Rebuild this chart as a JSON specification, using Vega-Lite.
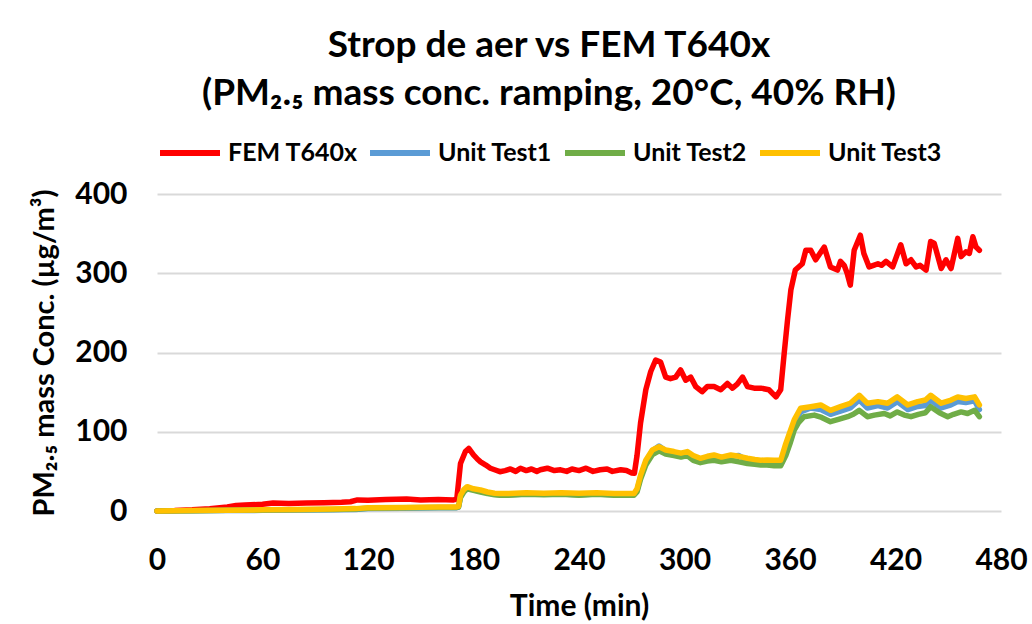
{
  "$schema": "https://vega.github.io/schema/vega-lite/v6.json",
  "width": 844,
  "height": 317,
  "autosize": {"type": "none"},
  "padding": {"left": 157, "top": 194, "right": 31, "bottom": 113},
  "background": "white",
  "title": {
    "text": ["Strop de aer vs FEM T640x", "(PM₂.₅ mass conc. ramping, 20°C, 40% RH)"],
    "font": "Lato",
    "fontSize": 37,
    "fontWeight": "bold",
    "color": "#000000",
    "lineHeight": 48,
    "anchor": "middle",
    "frame": "group",
    "dx": -30,
    "offset": 7
  },
  "config": {
    "view": {"stroke": null},
    "font": "Lato",
    "axis": {"labelFont": "Lato", "titleFont": "Lato", "labelColor": "#000000", "titleColor": "#000000"}
  },
  "datasets": {
    "series": [
      {"s": "FEM T640x", "t": 0, "v": 0}, {"s": "FEM T640x", "t": 10, "v": 0.5}, {"s": "FEM T640x", "t": 20, "v": 1.5}, {"s": "FEM T640x", "t": 30, "v": 3}, {"s": "FEM T640x", "t": 40, "v": 5}, {"s": "FEM T640x", "t": 45, "v": 7}, {"s": "FEM T640x", "t": 50, "v": 7.5}, {"s": "FEM T640x", "t": 60, "v": 8.5}, {"s": "FEM T640x", "t": 66, "v": 10}, {"s": "FEM T640x", "t": 75, "v": 9.5}, {"s": "FEM T640x", "t": 85, "v": 10}, {"s": "FEM T640x", "t": 95, "v": 10.5}, {"s": "FEM T640x", "t": 105, "v": 11}, {"s": "FEM T640x", "t": 110, "v": 11.7}, {"s": "FEM T640x", "t": 114, "v": 14}, {"s": "FEM T640x", "t": 120, "v": 13.5}, {"s": "FEM T640x", "t": 130, "v": 14.5}, {"s": "FEM T640x", "t": 142, "v": 15}, {"s": "FEM T640x", "t": 150, "v": 14}, {"s": "FEM T640x", "t": 160, "v": 14.5}, {"s": "FEM T640x", "t": 168.7, "v": 14}, {"s": "FEM T640x", "t": 170.5, "v": 15}, {"s": "FEM T640x", "t": 172.6, "v": 60}, {"s": "FEM T640x", "t": 175.4, "v": 75}, {"s": "FEM T640x", "t": 177.3, "v": 79}, {"s": "FEM T640x", "t": 180, "v": 70.7}, {"s": "FEM T640x", "t": 182, "v": 66}, {"s": "FEM T640x", "t": 184, "v": 62}, {"s": "FEM T640x", "t": 187, "v": 58}, {"s": "FEM T640x", "t": 189.6, "v": 54}, {"s": "FEM T640x", "t": 192, "v": 52}, {"s": "FEM T640x", "t": 195, "v": 49.6}, {"s": "FEM T640x", "t": 198, "v": 51}, {"s": "FEM T640x", "t": 201, "v": 53}, {"s": "FEM T640x", "t": 204, "v": 50}, {"s": "FEM T640x", "t": 206.7, "v": 54}, {"s": "FEM T640x", "t": 210, "v": 51}, {"s": "FEM T640x", "t": 213, "v": 53}, {"s": "FEM T640x", "t": 216, "v": 50}, {"s": "FEM T640x", "t": 218, "v": 52}, {"s": "FEM T640x", "t": 222, "v": 54}, {"s": "FEM T640x", "t": 226, "v": 51}, {"s": "FEM T640x", "t": 229.5, "v": 52}, {"s": "FEM T640x", "t": 233, "v": 50}, {"s": "FEM T640x", "t": 236, "v": 53}, {"s": "FEM T640x", "t": 240, "v": 51}, {"s": "FEM T640x", "t": 244, "v": 54}, {"s": "FEM T640x", "t": 248, "v": 50}, {"s": "FEM T640x", "t": 252, "v": 52}, {"s": "FEM T640x", "t": 256, "v": 53}, {"s": "FEM T640x", "t": 259, "v": 50}, {"s": "FEM T640x", "t": 263.7, "v": 52}, {"s": "FEM T640x", "t": 267, "v": 51}, {"s": "FEM T640x", "t": 270, "v": 48}, {"s": "FEM T640x", "t": 271.5, "v": 47.6}, {"s": "FEM T640x", "t": 273, "v": 70}, {"s": "FEM T640x", "t": 275, "v": 111}, {"s": "FEM T640x", "t": 278, "v": 153}, {"s": "FEM T640x", "t": 280.8, "v": 176}, {"s": "FEM T640x", "t": 283.6, "v": 190.5}, {"s": "FEM T640x", "t": 286.4, "v": 188}, {"s": "FEM T640x", "t": 289.3, "v": 169}, {"s": "FEM T640x", "t": 292, "v": 167}, {"s": "FEM T640x", "t": 295, "v": 169}, {"s": "FEM T640x", "t": 297.8, "v": 178}, {"s": "FEM T640x", "t": 300.7, "v": 165}, {"s": "FEM T640x", "t": 303.5, "v": 169}, {"s": "FEM T640x", "t": 306.4, "v": 157}, {"s": "FEM T640x", "t": 310, "v": 150.5}, {"s": "FEM T640x", "t": 313, "v": 157}, {"s": "FEM T640x", "t": 316.8, "v": 157}, {"s": "FEM T640x", "t": 320.6, "v": 153}, {"s": "FEM T640x", "t": 324.4, "v": 161}, {"s": "FEM T640x", "t": 327.3, "v": 155}, {"s": "FEM T640x", "t": 330, "v": 160}, {"s": "FEM T640x", "t": 333, "v": 169}, {"s": "FEM T640x", "t": 335.8, "v": 157}, {"s": "FEM T640x", "t": 339.6, "v": 155}, {"s": "FEM T640x", "t": 343.4, "v": 155}, {"s": "FEM T640x", "t": 348, "v": 153}, {"s": "FEM T640x", "t": 352, "v": 144}, {"s": "FEM T640x", "t": 354.7, "v": 153}, {"s": "FEM T640x", "t": 356.7, "v": 199}, {"s": "FEM T640x", "t": 358.6, "v": 241}, {"s": "FEM T640x", "t": 360.5, "v": 279}, {"s": "FEM T640x", "t": 363, "v": 304}, {"s": "FEM T640x", "t": 367, "v": 312}, {"s": "FEM T640x", "t": 369, "v": 329}, {"s": "FEM T640x", "t": 371.8, "v": 329}, {"s": "FEM T640x", "t": 374.6, "v": 317}, {"s": "FEM T640x", "t": 377, "v": 325}, {"s": "FEM T640x", "t": 379.5, "v": 333}, {"s": "FEM T640x", "t": 383, "v": 308}, {"s": "FEM T640x", "t": 387, "v": 304}, {"s": "FEM T640x", "t": 388.7, "v": 315}, {"s": "FEM T640x", "t": 390.8, "v": 310}, {"s": "FEM T640x", "t": 392.5, "v": 300}, {"s": "FEM T640x", "t": 394.3, "v": 285}, {"s": "FEM T640x", "t": 396.5, "v": 329}, {"s": "FEM T640x", "t": 400, "v": 348}, {"s": "FEM T640x", "t": 402, "v": 325}, {"s": "FEM T640x", "t": 405, "v": 308}, {"s": "FEM T640x", "t": 407.5, "v": 310}, {"s": "FEM T640x", "t": 410, "v": 312}, {"s": "FEM T640x", "t": 412, "v": 310}, {"s": "FEM T640x", "t": 414.6, "v": 315}, {"s": "FEM T640x", "t": 418.4, "v": 308}, {"s": "FEM T640x", "t": 423, "v": 336}, {"s": "FEM T640x", "t": 426, "v": 312}, {"s": "FEM T640x", "t": 428.8, "v": 317}, {"s": "FEM T640x", "t": 431.7, "v": 308}, {"s": "FEM T640x", "t": 434, "v": 310}, {"s": "FEM T640x", "t": 437.4, "v": 304}, {"s": "FEM T640x", "t": 440, "v": 340}, {"s": "FEM T640x", "t": 442, "v": 338}, {"s": "FEM T640x", "t": 446, "v": 306}, {"s": "FEM T640x", "t": 448.7, "v": 317}, {"s": "FEM T640x", "t": 451.6, "v": 306}, {"s": "FEM T640x", "t": 455.4, "v": 344}, {"s": "FEM T640x", "t": 457.3, "v": 321}, {"s": "FEM T640x", "t": 460, "v": 327}, {"s": "FEM T640x", "t": 462, "v": 325}, {"s": "FEM T640x", "t": 464, "v": 346}, {"s": "FEM T640x", "t": 465.8, "v": 333}, {"s": "FEM T640x", "t": 467.7, "v": 329},

      {"s": "Unit Test1", "t": 0, "v": 0}, {"s": "Unit Test1", "t": 20, "v": 0.2}, {"s": "Unit Test1", "t": 40, "v": 0.5}, {"s": "Unit Test1", "t": 60, "v": 0.8}, {"s": "Unit Test1", "t": 80, "v": 1.2}, {"s": "Unit Test1", "t": 100, "v": 1.5}, {"s": "Unit Test1", "t": 113, "v": 2}, {"s": "Unit Test1", "t": 120, "v": 3}, {"s": "Unit Test1", "t": 140, "v": 3.5}, {"s": "Unit Test1", "t": 160, "v": 4}, {"s": "Unit Test1", "t": 170, "v": 4}, {"s": "Unit Test1", "t": 171.5, "v": 5}, {"s": "Unit Test1", "t": 172.6, "v": 18}, {"s": "Unit Test1", "t": 174.5, "v": 26}, {"s": "Unit Test1", "t": 176.4, "v": 29.5}, {"s": "Unit Test1", "t": 180, "v": 27}, {"s": "Unit Test1", "t": 184, "v": 25}, {"s": "Unit Test1", "t": 188, "v": 23}, {"s": "Unit Test1", "t": 192, "v": 21}, {"s": "Unit Test1", "t": 195, "v": 20.5}, {"s": "Unit Test1", "t": 200, "v": 20.5}, {"s": "Unit Test1", "t": 210, "v": 21.5}, {"s": "Unit Test1", "t": 220, "v": 21}, {"s": "Unit Test1", "t": 230, "v": 21.5}, {"s": "Unit Test1", "t": 240, "v": 20.5}, {"s": "Unit Test1", "t": 250, "v": 21.5}, {"s": "Unit Test1", "t": 260, "v": 20.5}, {"s": "Unit Test1", "t": 270, "v": 20.5}, {"s": "Unit Test1", "t": 271.3, "v": 21}, {"s": "Unit Test1", "t": 273, "v": 26}, {"s": "Unit Test1", "t": 275, "v": 43}, {"s": "Unit Test1", "t": 278, "v": 62}, {"s": "Unit Test1", "t": 281.7, "v": 76}, {"s": "Unit Test1", "t": 285.5, "v": 82}, {"s": "Unit Test1", "t": 289.3, "v": 76}, {"s": "Unit Test1", "t": 294, "v": 74}, {"s": "Unit Test1", "t": 298, "v": 72}, {"s": "Unit Test1", "t": 301.6, "v": 73}, {"s": "Unit Test1", "t": 305, "v": 68}, {"s": "Unit Test1", "t": 309, "v": 64}, {"s": "Unit Test1", "t": 313, "v": 67}, {"s": "Unit Test1", "t": 316.8, "v": 68}, {"s": "Unit Test1", "t": 321, "v": 66}, {"s": "Unit Test1", "t": 326.3, "v": 69}, {"s": "Unit Test1", "t": 331, "v": 70}, {"s": "Unit Test1", "t": 335.8, "v": 64}, {"s": "Unit Test1", "t": 340, "v": 62}, {"s": "Unit Test1", "t": 343.4, "v": 61}, {"s": "Unit Test1", "t": 347, "v": 62}, {"s": "Unit Test1", "t": 351, "v": 61}, {"s": "Unit Test1", "t": 354.7, "v": 61}, {"s": "Unit Test1", "t": 357.6, "v": 80}, {"s": "Unit Test1", "t": 360, "v": 95}, {"s": "Unit Test1", "t": 362.4, "v": 110}, {"s": "Unit Test1", "t": 366, "v": 125}, {"s": "Unit Test1", "t": 371.8, "v": 130}, {"s": "Unit Test1", "t": 377.5, "v": 128}, {"s": "Unit Test1", "t": 383, "v": 122}, {"s": "Unit Test1", "t": 388.7, "v": 126}, {"s": "Unit Test1", "t": 394.3, "v": 130}, {"s": "Unit Test1", "t": 399.4, "v": 140}, {"s": "Unit Test1", "t": 404, "v": 130}, {"s": "Unit Test1", "t": 410, "v": 133}, {"s": "Unit Test1", "t": 415.5, "v": 130}, {"s": "Unit Test1", "t": 421, "v": 138}, {"s": "Unit Test1", "t": 427, "v": 128}, {"s": "Unit Test1", "t": 432.6, "v": 132}, {"s": "Unit Test1", "t": 437, "v": 133}, {"s": "Unit Test1", "t": 440, "v": 140}, {"s": "Unit Test1", "t": 446, "v": 130}, {"s": "Unit Test1", "t": 451.6, "v": 134}, {"s": "Unit Test1", "t": 455.4, "v": 138}, {"s": "Unit Test1", "t": 460, "v": 137}, {"s": "Unit Test1", "t": 465, "v": 139}, {"s": "Unit Test1", "t": 467.7, "v": 128},

      {"s": "Unit Test2", "t": 0, "v": 0}, {"s": "Unit Test2", "t": 20, "v": 0.3}, {"s": "Unit Test2", "t": 40, "v": 0.8}, {"s": "Unit Test2", "t": 60, "v": 1.2}, {"s": "Unit Test2", "t": 80, "v": 1.6}, {"s": "Unit Test2", "t": 100, "v": 2}, {"s": "Unit Test2", "t": 113, "v": 2.5}, {"s": "Unit Test2", "t": 120, "v": 3.5}, {"s": "Unit Test2", "t": 140, "v": 4}, {"s": "Unit Test2", "t": 160, "v": 4.5}, {"s": "Unit Test2", "t": 170, "v": 4.5}, {"s": "Unit Test2", "t": 171.5, "v": 5}, {"s": "Unit Test2", "t": 172.6, "v": 17}, {"s": "Unit Test2", "t": 174.5, "v": 24}, {"s": "Unit Test2", "t": 176.4, "v": 28}, {"s": "Unit Test2", "t": 180, "v": 26}, {"s": "Unit Test2", "t": 184, "v": 24}, {"s": "Unit Test2", "t": 188, "v": 22}, {"s": "Unit Test2", "t": 192, "v": 20.5}, {"s": "Unit Test2", "t": 195, "v": 20}, {"s": "Unit Test2", "t": 200, "v": 20}, {"s": "Unit Test2", "t": 210, "v": 21}, {"s": "Unit Test2", "t": 220, "v": 20.5}, {"s": "Unit Test2", "t": 230, "v": 21}, {"s": "Unit Test2", "t": 240, "v": 20}, {"s": "Unit Test2", "t": 250, "v": 21}, {"s": "Unit Test2", "t": 260, "v": 20}, {"s": "Unit Test2", "t": 270, "v": 20}, {"s": "Unit Test2", "t": 271.3, "v": 20}, {"s": "Unit Test2", "t": 273, "v": 24}, {"s": "Unit Test2", "t": 275, "v": 40}, {"s": "Unit Test2", "t": 278, "v": 58}, {"s": "Unit Test2", "t": 281.7, "v": 71}, {"s": "Unit Test2", "t": 285.5, "v": 76}, {"s": "Unit Test2", "t": 289.3, "v": 72}, {"s": "Unit Test2", "t": 294, "v": 70}, {"s": "Unit Test2", "t": 298, "v": 68}, {"s": "Unit Test2", "t": 301.6, "v": 70}, {"s": "Unit Test2", "t": 305, "v": 64}, {"s": "Unit Test2", "t": 309, "v": 61}, {"s": "Unit Test2", "t": 313, "v": 63}, {"s": "Unit Test2", "t": 316.8, "v": 64}, {"s": "Unit Test2", "t": 321, "v": 62}, {"s": "Unit Test2", "t": 326.3, "v": 64}, {"s": "Unit Test2", "t": 331, "v": 62}, {"s": "Unit Test2", "t": 335.8, "v": 60}, {"s": "Unit Test2", "t": 340, "v": 59}, {"s": "Unit Test2", "t": 343.4, "v": 58}, {"s": "Unit Test2", "t": 347, "v": 58}, {"s": "Unit Test2", "t": 351, "v": 57}, {"s": "Unit Test2", "t": 354.7, "v": 57}, {"s": "Unit Test2", "t": 357.6, "v": 70}, {"s": "Unit Test2", "t": 360, "v": 85}, {"s": "Unit Test2", "t": 362.4, "v": 102}, {"s": "Unit Test2", "t": 365, "v": 112}, {"s": "Unit Test2", "t": 368, "v": 119}, {"s": "Unit Test2", "t": 373.8, "v": 121}, {"s": "Unit Test2", "t": 378, "v": 118}, {"s": "Unit Test2", "t": 383, "v": 112.7}, {"s": "Unit Test2", "t": 388, "v": 116}, {"s": "Unit Test2", "t": 392.8, "v": 119}, {"s": "Unit Test2", "t": 396, "v": 122}, {"s": "Unit Test2", "t": 399.4, "v": 127}, {"s": "Unit Test2", "t": 404, "v": 119}, {"s": "Unit Test2", "t": 408, "v": 121}, {"s": "Unit Test2", "t": 413.6, "v": 123}, {"s": "Unit Test2", "t": 417, "v": 120}, {"s": "Unit Test2", "t": 421, "v": 125}, {"s": "Unit Test2", "t": 425, "v": 121}, {"s": "Unit Test2", "t": 428.8, "v": 119}, {"s": "Unit Test2", "t": 433, "v": 122}, {"s": "Unit Test2", "t": 437, "v": 124}, {"s": "Unit Test2", "t": 440, "v": 131.6}, {"s": "Unit Test2", "t": 445, "v": 124}, {"s": "Unit Test2", "t": 449.7, "v": 119}, {"s": "Unit Test2", "t": 453, "v": 122}, {"s": "Unit Test2", "t": 457.3, "v": 125}, {"s": "Unit Test2", "t": 461, "v": 123}, {"s": "Unit Test2", "t": 465, "v": 127}, {"s": "Unit Test2", "t": 467.7, "v": 119},

      {"s": "Unit Test3", "t": 0, "v": 0}, {"s": "Unit Test3", "t": 20, "v": 0.5}, {"s": "Unit Test3", "t": 40, "v": 1}, {"s": "Unit Test3", "t": 60, "v": 1.5}, {"s": "Unit Test3", "t": 80, "v": 2}, {"s": "Unit Test3", "t": 100, "v": 2.5}, {"s": "Unit Test3", "t": 113, "v": 3}, {"s": "Unit Test3", "t": 120, "v": 4}, {"s": "Unit Test3", "t": 140, "v": 4.5}, {"s": "Unit Test3", "t": 160, "v": 5}, {"s": "Unit Test3", "t": 170, "v": 5}, {"s": "Unit Test3", "t": 171.5, "v": 6}, {"s": "Unit Test3", "t": 172.6, "v": 20}, {"s": "Unit Test3", "t": 174.5, "v": 27}, {"s": "Unit Test3", "t": 176.4, "v": 30.7}, {"s": "Unit Test3", "t": 180, "v": 28}, {"s": "Unit Test3", "t": 184, "v": 26.5}, {"s": "Unit Test3", "t": 188, "v": 24}, {"s": "Unit Test3", "t": 192, "v": 22.5}, {"s": "Unit Test3", "t": 195, "v": 22}, {"s": "Unit Test3", "t": 200, "v": 22}, {"s": "Unit Test3", "t": 210, "v": 23}, {"s": "Unit Test3", "t": 220, "v": 22.5}, {"s": "Unit Test3", "t": 230, "v": 23}, {"s": "Unit Test3", "t": 240, "v": 22.5}, {"s": "Unit Test3", "t": 250, "v": 23}, {"s": "Unit Test3", "t": 260, "v": 22}, {"s": "Unit Test3", "t": 270, "v": 22}, {"s": "Unit Test3", "t": 271.3, "v": 22}, {"s": "Unit Test3", "t": 273, "v": 28}, {"s": "Unit Test3", "t": 275, "v": 45}, {"s": "Unit Test3", "t": 278, "v": 64}, {"s": "Unit Test3", "t": 281.7, "v": 77}, {"s": "Unit Test3", "t": 285.5, "v": 81}, {"s": "Unit Test3", "t": 289.3, "v": 77}, {"s": "Unit Test3", "t": 294, "v": 75}, {"s": "Unit Test3", "t": 298, "v": 73}, {"s": "Unit Test3", "t": 301.6, "v": 75}, {"s": "Unit Test3", "t": 305, "v": 70}, {"s": "Unit Test3", "t": 309, "v": 66.5}, {"s": "Unit Test3", "t": 313, "v": 69}, {"s": "Unit Test3", "t": 316.8, "v": 70.7}, {"s": "Unit Test3", "t": 321, "v": 68}, {"s": "Unit Test3", "t": 326.3, "v": 70.7}, {"s": "Unit Test3", "t": 331, "v": 69}, {"s": "Unit Test3", "t": 335.8, "v": 66.5}, {"s": "Unit Test3", "t": 340, "v": 65}, {"s": "Unit Test3", "t": 343.4, "v": 64}, {"s": "Unit Test3", "t": 347, "v": 64.5}, {"s": "Unit Test3", "t": 351, "v": 64}, {"s": "Unit Test3", "t": 354.7, "v": 64}, {"s": "Unit Test3", "t": 357.6, "v": 85}, {"s": "Unit Test3", "t": 360, "v": 100}, {"s": "Unit Test3", "t": 362.4, "v": 115}, {"s": "Unit Test3", "t": 366, "v": 129.6}, {"s": "Unit Test3", "t": 371.8, "v": 131.6}, {"s": "Unit Test3", "t": 377.5, "v": 133.8}, {"s": "Unit Test3", "t": 383, "v": 127}, {"s": "Unit Test3", "t": 388.7, "v": 131.6}, {"s": "Unit Test3", "t": 394.3, "v": 136}, {"s": "Unit Test3", "t": 399.4, "v": 146}, {"s": "Unit Test3", "t": 404, "v": 136}, {"s": "Unit Test3", "t": 410, "v": 138}, {"s": "Unit Test3", "t": 415.5, "v": 136}, {"s": "Unit Test3", "t": 421, "v": 144}, {"s": "Unit Test3", "t": 427, "v": 133.8}, {"s": "Unit Test3", "t": 432.6, "v": 138}, {"s": "Unit Test3", "t": 437, "v": 140}, {"s": "Unit Test3", "t": 440, "v": 146}, {"s": "Unit Test3", "t": 446, "v": 136}, {"s": "Unit Test3", "t": 451.6, "v": 140}, {"s": "Unit Test3", "t": 455.4, "v": 144}, {"s": "Unit Test3", "t": 460, "v": 142}, {"s": "Unit Test3", "t": 465, "v": 144}, {"s": "Unit Test3", "t": 467.7, "v": 133.8}
    ]
  },
  "data": {"name": "series"},
  "mark": {"type": "line", "strokeWidth": 5.5, "strokeCap": "round", "strokeJoin": "round", "interpolate": "linear"},
  "encoding": {
    "x": {
      "field": "t",
      "type": "quantitative",
      "scale": {"domain": [0, 480], "nice": false, "zero": false},
      "axis": {
        "title": "Time (min)",
        "values": [0, 60, 120, 180, 240, 300, 360, 420, 480],
        "grid": false,
        "domain": false,
        "ticks": false,
        "labelFontSize": 30,
        "labelFontWeight": "bold",
        "labelPadding": 34,
        "labelFlush": false,
        "titleFontSize": 30,
        "titleFontWeight": "bold",
        "titlePadding": 16
      }
    },
    "y": {
      "field": "v",
      "type": "quantitative",
      "scale": {"domain": [0, 400], "nice": false},
      "axis": {
        "title": "PM₂.₅ mass Conc. (µg/m³)",
        "values": [0, 100, 200, 300, 400],
        "grid": true,
        "gridColor": "#D9D9D9",
        "gridWidth": 2,
        "domain": false,
        "ticks": false,
        "labelFontSize": 30,
        "labelFontWeight": "bold",
        "labelPadding": 30,
        "titleFontSize": 29,
        "titleFontWeight": "bold",
        "titlePadding": 15
      }
    },
    "color": {
      "field": "s",
      "type": "nominal",
      "scale": {
        "domain": ["FEM T640x", "Unit Test1", "Unit Test2", "Unit Test3"],
        "range": ["#FF0000", "#5B9BD5", "#70AD47", "#FFC000"]
      },
      "legend": {
        "title": null,
        "orient": "top",
        "direction": "horizontal",
        "symbolType": "stroke",
        "symbolSize": 3600,
        "symbolStrokeWidth": 6,
        "labelFont": "Lato",
        "labelFontSize": 25,
        "labelFontWeight": "bold",
        "labelColor": "#000000",
        "labelOffset": 5,
        "columnPadding": 0,
        "offset": 28
      }
    }
  }
}
